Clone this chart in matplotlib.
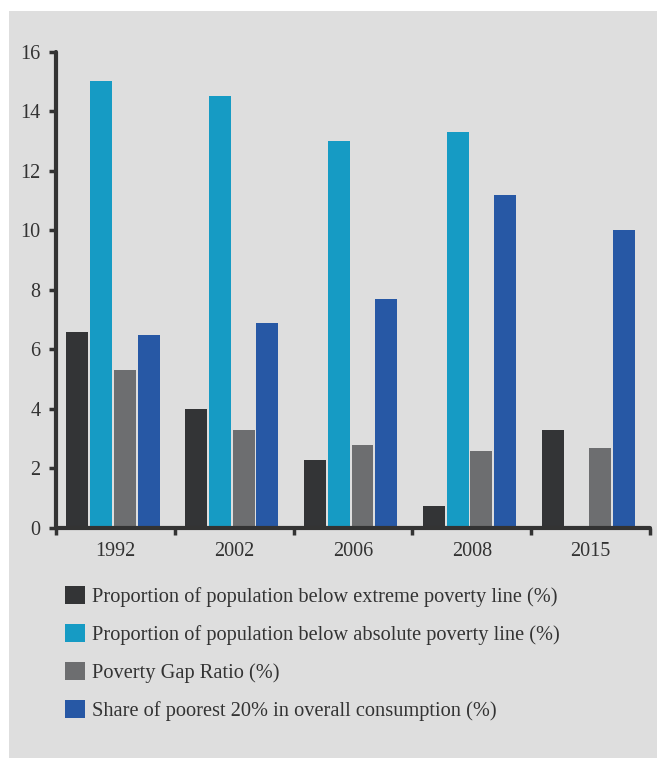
import matplotlib
matplotlib.use("Agg")
import matplotlib.pyplot as plt
import numpy as np
from matplotlib.patches import Rectangle

years = ["1992", "2002", "2006", "2008", "2015"]
extreme = [6.6, 4.0, 2.3, 0.75, 3.3]
absolute = [15.0, 14.5, 13.0, 13.3, np.nan]
gap_ratio = [5.3, 3.3, 2.8, 2.6, 2.7]
poorest_share = [6.5, 6.9, 7.7, 11.2, 10.0]
series_labels = [
    "Proportion of population below extreme poverty line (%)",
    "Proportion of population below absolute poverty line (%)",
    "Poverty Gap Ratio (%)",
    "Share of poorest 20% in overall consumption (%)",
]
yticks = [0, 2, 4, 6, 8, 10, 12, 14, 16]

colors = ["#333436", "#169BC4", "#6D6E70", "#2758A5"]
bg = "#DEDEDE"
txt = "#333333"
font = "Liberation Serif"

W, H = 657, 758
fig = plt.figure(figsize=(W / 100, H / 100), dpi=100)
fig.patch.set_facecolor("white")
fig.add_artist(Rectangle((9 / W, 0), 1 - 9 / W, 1 - 11 / H,
                         transform=fig.transFigure, facecolor=bg,
                         edgecolor="none", zorder=-10))

left, right = 56 / W, 650 / W
bottom, top = 1 - 528 / H, 1 - 51.7 / H
ax = fig.add_axes([left, bottom, right - left, top - bottom])
ax.set_facecolor("none")

x = np.arange(len(years))
data = [extreme, absolute, gap_ratio, poorest_share]
bw = 0.185
pitch = 0.2
offsets = (np.arange(4) - 1.5) * pitch - 0.02
for i, vals in enumerate(data):
    ax.bar(x + offsets[i], vals, width=bw, color=colors[i], label=series_labels[i],
           zorder=2, linewidth=0)

ax.set_xlim(-0.5, len(years) - 0.5)
ax.set_ylim(0, 16)
ax.set_yticks(yticks)
ax.set_yticklabels([str(t) for t in yticks], fontfamily=font, fontsize=14.5, color=txt)
ax.set_xticks(np.arange(len(years) + 1) - 0.5)
ax.set_xticklabels([""] * (len(years) + 1))
ax.set_xticks(x, minor=True)
ax.set_xticklabels(years, minor=True, fontfamily=font, fontsize=14.5, color=txt)
ax.tick_params(axis="x", which="minor", length=0, pad=10)
ax.tick_params(axis="x", which="major", length=5, width=2.5, color=txt, direction="out")
ax.tick_params(axis="y", length=5, width=2.5, color=txt, direction="out", pad=6)

for s in ["top", "right"]:
    ax.spines[s].set_visible(False)
for s in ["left", "bottom"]:
    ax.spines[s].set_linewidth(3)
    ax.spines[s].set_color(txt)
    ax.spines[s].set_capstyle("round")

handles, labels = ax.get_legend_handles_labels()
leg = fig.legend(handles, labels, loc="upper left",
                 bbox_to_anchor=(57 / W, 1 - 578 / H),
                 frameon=False, prop={"family": font, "size": 14.7},
                 handlelength=0.97, handleheight=0.97, handletextpad=0.36,
                 labelspacing=0.84, borderaxespad=0)
for t in leg.get_texts():
    t.set_color(txt)

fig.savefig("out.png", dpi=100, facecolor=fig.get_facecolor())
